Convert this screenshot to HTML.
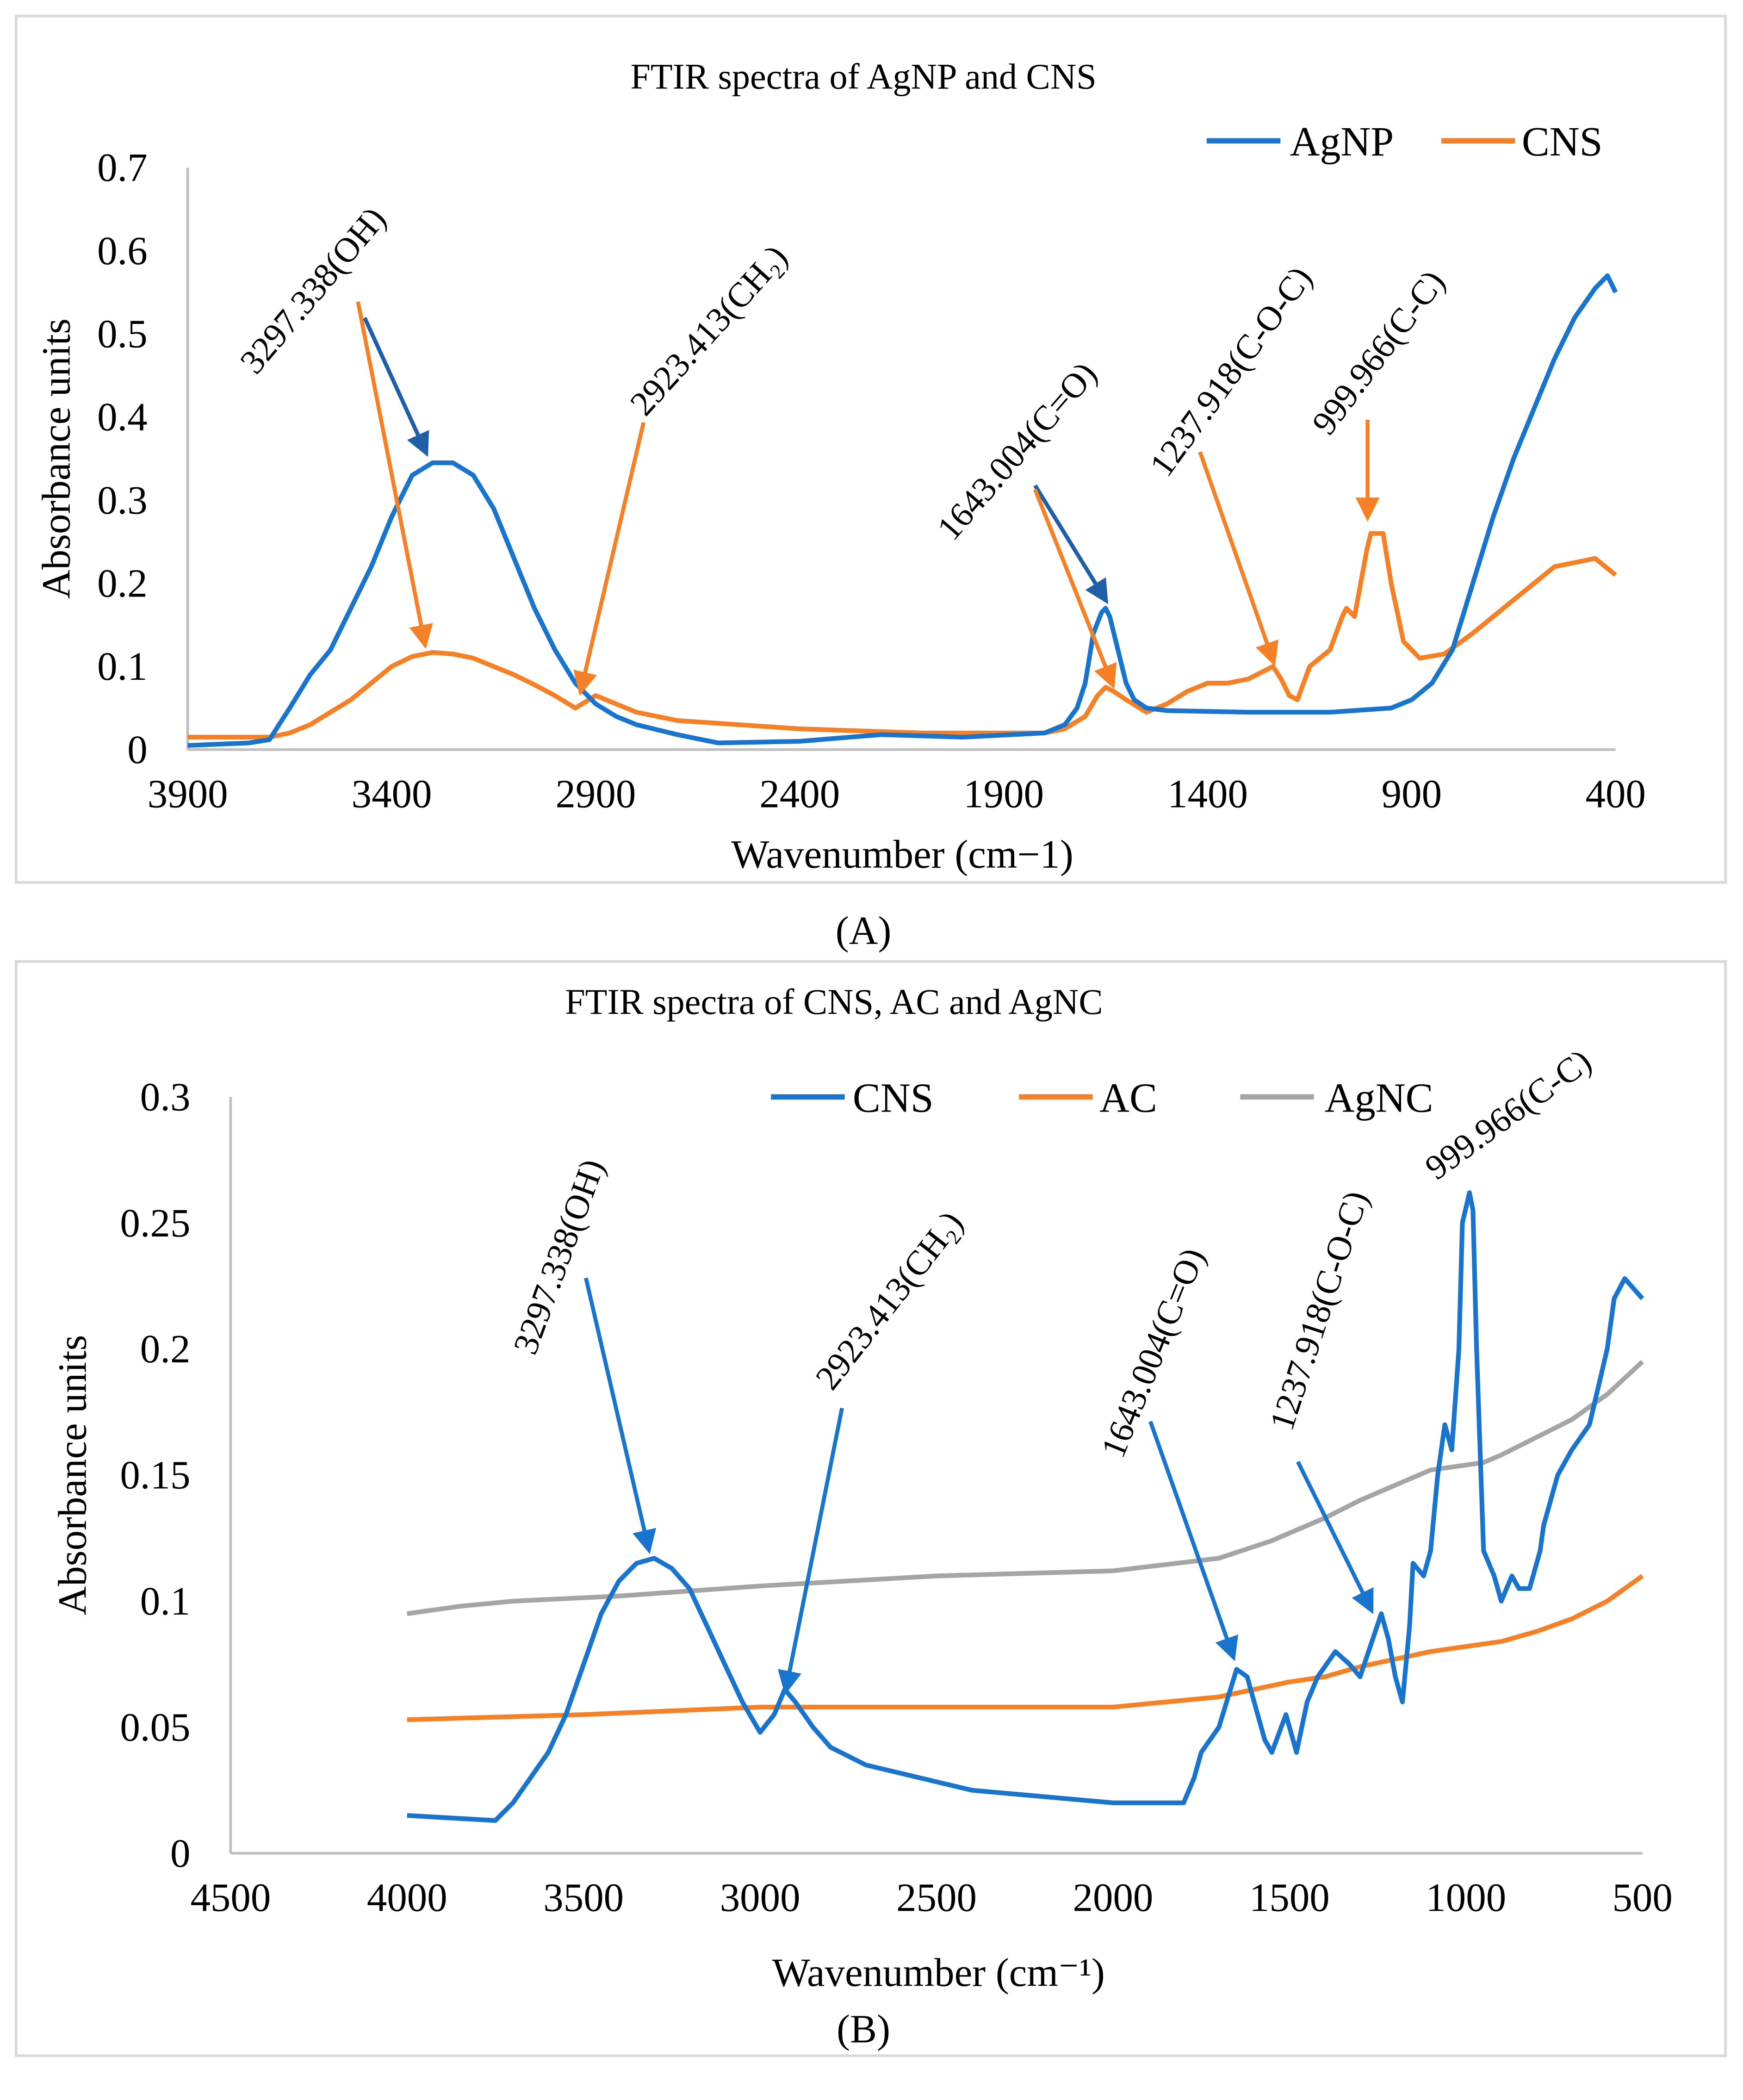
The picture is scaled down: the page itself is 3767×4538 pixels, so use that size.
<!DOCTYPE html>
<html><head><meta charset="utf-8"><style>
html,body{margin:0;padding:0;background:#fff}
svg{display:block;font-family:"Liberation Serif","Times New Roman","DejaVu Serif",serif}
svg text{font-family:"Liberation Serif","Times New Roman","DejaVu Serif",serif !important;fill:#000}
</style></head><body>
<svg width="3767" height="4538" viewBox="0 0 1300 1566" preserveAspectRatio="none" xmlns="http://www.w3.org/2000/svg">
<defs>
<marker id="ab" markerWidth="6" markerHeight="6" refX="5" refY="3" orient="auto" markerUnits="strokeWidth"><path d="M0,0 L6,3 L0,6 z" fill="#1f5fa8"/></marker>
<marker id="ao" markerWidth="6" markerHeight="6" refX="5" refY="3" orient="auto" markerUnits="strokeWidth"><path d="M0,0 L6,3 L0,6 z" fill="#f58025"/></marker>
<marker id="ab2" markerWidth="6" markerHeight="6" refX="5" refY="3" orient="auto" markerUnits="strokeWidth"><path d="M0,0 L6,3 L0,6 z" fill="#1874cd"/></marker>
</defs>
<rect x="12" y="12" width="1275" height="646" fill="#fff" stroke="#d9d9d9" stroke-width="2"/>
<rect x="12" y="717" width="1275" height="816" fill="#fff" stroke="#d9d9d9" stroke-width="2"/>
<text x="644" y="66" font-size="27" text-anchor="middle">FTIR spectra of AgNP and CNS</text>
<text x="622" y="756" font-size="27" text-anchor="middle">FTIR spectra of CNS, AC and AgNC</text>
<text x="644" y="704" font-size="30" text-anchor="middle">(A)</text>
<text x="644" y="1523" font-size="30" text-anchor="middle">(B)</text>
<g>
<line x1="900" y1="105" x2="955" y2="105" stroke="#1874cd" stroke-width="4"/><text x="962" y="116" font-size="31">AgNP</text>
<line x1="1075" y1="105" x2="1130" y2="105" stroke="#f58025" stroke-width="4"/><text x="1135" y="116" font-size="31">CNS</text>
</g>
<g>
<line x1="575" y1="818" x2="630" y2="818" stroke="#1874cd" stroke-width="4"/><text x="636" y="829" font-size="31">CNS</text>
<line x1="760" y1="818" x2="815" y2="818" stroke="#f58025" stroke-width="4"/><text x="820" y="829" font-size="31">AC</text>
<line x1="925" y1="818" x2="980" y2="818" stroke="#a5a5a5" stroke-width="4"/><text x="988" y="829" font-size="31">AgNC</text>
</g>
<g id="chartA"></g>
<g id="chartB"></g>
<text x="673" y="647" font-size="30" text-anchor="middle">Wavenumber (cm−1)</text>
<text transform="translate(52,342) rotate(-90)" font-size="30" text-anchor="middle">Absorbance units</text>
<text x="700" y="1481" font-size="30" text-anchor="middle">Wavenumber (cm⁻¹)</text>
<text transform="translate(64,1100) rotate(-90)" font-size="30" text-anchor="middle">Absorbance units</text>
<g>
<text transform="translate(240,222) rotate(-50)" text-anchor="middle" font-size="26">3297.338(OH)</text>
<text transform="translate(535,252) rotate(-48)" text-anchor="middle" font-size="26">2923.413(CH₂)</text>
<text transform="translate(765,342) rotate(-49)" text-anchor="middle" font-size="26">1643.004(C=O)</text>
<text transform="translate(925,282) rotate(-54)" text-anchor="middle" font-size="26">1237.918(C-O-C)</text>
<text transform="translate(1035,268) rotate(-53)" text-anchor="middle" font-size="26">999.966(C-C)</text>
<line x1="272" y1="237" x2="318" y2="338" stroke="#1f5fa8" stroke-width="3" marker-end="url(#ab)"/>
<line x1="267" y1="225" x2="317" y2="481" stroke="#f58025" stroke-width="3" marker-end="url(#ao)"/>
<line x1="480" y1="315" x2="433" y2="516" stroke="#f58025" stroke-width="3" marker-end="url(#ao)"/>
<line x1="772" y1="362" x2="825" y2="448" stroke="#1f5fa8" stroke-width="3" marker-end="url(#ab)"/>
<line x1="772" y1="365" x2="830" y2="511" stroke="#f58025" stroke-width="3" marker-end="url(#ao)"/>
<line x1="895" y1="337" x2="950" y2="494" stroke="#f58025" stroke-width="3" marker-end="url(#ao)"/>
<line x1="1020" y1="313" x2="1020" y2="386" stroke="#f58025" stroke-width="3" marker-end="url(#ao)"/>
</g>
<g>
<text transform="translate(425,940) rotate(-70)" text-anchor="middle" font-size="26">3297.338(OH)</text>
<text transform="translate(670,975) rotate(-52)" text-anchor="middle" font-size="26">2923.413(CH₂)</text>
<text transform="translate(868,1012) rotate(-68)" text-anchor="middle" font-size="26">1643.004(C=O)</text>
<text transform="translate(992,980) rotate(-72)" text-anchor="middle" font-size="26">1237.918(C-O-C)</text>
<text transform="translate(1130,838) rotate(-36)" text-anchor="middle" font-size="26">999.966(C-C)</text>
<line x1="437" y1="953" x2="484" y2="1156" stroke="#1874cd" stroke-width="3" marker-end="url(#ab2)"/>
<line x1="628" y1="1050" x2="586" y2="1261" stroke="#1874cd" stroke-width="3" marker-end="url(#ab2)"/>
<line x1="858" y1="1060" x2="920" y2="1236" stroke="#1874cd" stroke-width="3" marker-end="url(#ab2)"/>
<line x1="968" y1="1090" x2="1023" y2="1201" stroke="#1874cd" stroke-width="3" marker-end="url(#ab2)"/>
</g>
</svg>
<script>
const aAgNPx=[3900,3750,3700,3650,3600,3550,3500,3450,3400,3350,3300,3250,3200,3150,3100,3050,3000,2950,2900,2850,2800,2700,2600,2400,2200,2000,1800,1750,1720,1700,1680,1660,1650,1640,1620,1600,1580,1550,1500,1300,1100,950,900,850,800,750,700,650,600,550,500,450,420,400];
const aAgNPy=[0.005,0.008,0.012,0.05,0.09,0.12,0.17,0.22,0.28,0.33,0.345,0.345,0.33,0.29,0.23,0.17,0.12,0.08,0.055,0.04,0.03,0.018,0.008,0.01,0.018,0.015,0.02,0.03,0.05,0.08,0.14,0.165,0.17,0.16,0.12,0.08,0.06,0.05,0.047,0.045,0.045,0.05,0.06,0.08,0.12,0.2,0.28,0.35,0.41,0.47,0.52,0.555,0.57,0.55];
const aCNSx=[3900,3700,3650,3600,3550,3500,3450,3400,3350,3300,3250,3200,3150,3100,3050,3000,2950,2900,2850,2800,2700,2400,2100,1800,1750,1700,1670,1650,1630,1600,1550,1500,1450,1400,1350,1300,1240,1220,1200,1180,1150,1100,1070,1060,1040,1010,1000,970,960,950,920,880,820,750,650,550,450,400];
const aCNSy=[0.015,0.015,0.02,0.03,0.045,0.06,0.08,0.1,0.112,0.117,0.115,0.11,0.1,0.09,0.078,0.065,0.05,0.065,0.055,0.045,0.035,0.025,0.02,0.02,0.025,0.04,0.065,0.075,0.07,0.06,0.045,0.055,0.07,0.08,0.08,0.085,0.1,0.085,0.065,0.06,0.1,0.12,0.16,0.17,0.16,0.24,0.26,0.26,0.23,0.2,0.13,0.11,0.115,0.14,0.18,0.22,0.23,0.21];
const bCNSx=[4000,3750,3700,3600,3550,3500,3450,3400,3350,3300,3250,3200,3150,3100,3050,3000,2960,2930,2900,2850,2800,2700,2400,2000,1800,1770,1750,1700,1650,1620,1600,1570,1550,1510,1490,1480,1450,1420,1370,1330,1300,1240,1220,1200,1180,1160,1150,1120,1100,1080,1060,1040,1020,1010,990,980,970,950,920,900,870,850,820,790,780,740,700,650,600,580,550,500];
const bCNSy=[0.015,0.013,0.02,0.04,0.055,0.075,0.095,0.108,0.115,0.117,0.113,0.105,0.09,0.075,0.06,0.048,0.055,0.065,0.06,0.05,0.042,0.035,0.025,0.02,0.02,0.03,0.04,0.05,0.073,0.07,0.06,0.045,0.04,0.055,0.045,0.04,0.06,0.07,0.08,0.075,0.07,0.095,0.085,0.07,0.06,0.09,0.115,0.11,0.12,0.15,0.17,0.16,0.2,0.25,0.262,0.255,0.2,0.12,0.11,0.1,0.11,0.105,0.105,0.12,0.13,0.15,0.16,0.17,0.2,0.22,0.228,0.22];
const bACx=[4000,3500,3000,2500,2000,1700,1600,1500,1400,1300,1200,1100,1000,900,800,700,600,550,500];
const bACy=[0.053,0.055,0.058,0.058,0.058,0.062,0.065,0.068,0.07,0.074,0.077,0.08,0.082,0.084,0.088,0.093,0.1,0.105,0.11];
const bAgNCx=[4000,3850,3700,3400,3000,2500,2000,1700,1550,1500,1400,1300,1200,1100,1000,950,900,800,700,600,500];
const bAgNCy=[0.095,0.098,0.1,0.102,0.106,0.11,0.112,0.117,0.124,0.127,0.133,0.14,0.146,0.152,0.154,0.155,0.158,0.165,0.172,0.182,0.195];
const aXTicks=[3900,3400,2900,2400,1900,1400,900,400];
const aYTicks=[0,0.1,0.2,0.3,0.4,0.5,0.6,0.7];
const bXTicks=[4500,4000,3500,3000,2500,2000,1500,1000,500];
const bYTicks=[0,0.05,0.1,0.15,0.2,0.25,0.3];
const NS='http://www.w3.org/2000/svg';
function mk(tag,attrs,parent){const e=document.createElementNS(NS,tag);for(const k in attrs)e.setAttribute(k,attrs[k]);parent.appendChild(e);return e;}
function build(g,cfg){
 const sx=v=>cfg.x0+(cfg.xmax-v)/(cfg.xmax-cfg.xmin)*(cfg.x1-cfg.x0);
 const sy=v=>cfg.y0-(v/cfg.ymax)*(cfg.y0-cfg.y1);
 const ax=mk('line',{x1:cfg.x0,y1:cfg.y0,x2:cfg.x1,y2:cfg.y0,stroke:'#bfbfbf','stroke-width':2},g);
 
 
 const ay=mk('line',{x1:cfg.x0,y1:cfg.y0,x2:cfg.x0,y2:cfg.y1,stroke:'#bfbfbf','stroke-width':2},g);
 
 
 cfg.xt.forEach(t=>{const e=mk('text',{x:sx(t),y:cfg.y0+43,'font-size':30,'text-anchor':'middle'},g);e.textContent=t;
  
  });
 cfg.yt.forEach(t=>{const e=mk('text',{x:cfg.x0-30,y:sy(t)+10,'font-size':30,'text-anchor':'end'},g);e.textContent=t;
  
  });
 cfg.series.forEach(s=>{const d=s.x.map((v,i)=>(i?'L':'M')+sx(v).toFixed(1)+','+sy(s.y[i]).toFixed(1)).join(' ');
  const p=mk('path',{d:d,fill:'none',stroke:s.c,'stroke-width':3.5,'stroke-linejoin':'round'},g);
  
  });
}
build(document.getElementById('chartA'),{x0:140,x1:1205,y0:559,y1:125,xmin:400,xmax:3900,ymax:0.7,xt:aXTicks,yt:aYTicks,
 series:[{x:aCNSx,y:aCNSy,c:'#f58025',n:'cns-line-a'},{x:aAgNPx,y:aAgNPy,c:'#1874cd',n:'agnp-line'}]});
build(document.getElementById('chartB'),{x0:172,x1:1225,y0:1382,y1:818,xmin:500,xmax:4500,ymax:0.3,xt:bXTicks,yt:bYTicks,
 series:[{x:bAgNCx,y:bAgNCy,c:'#a5a5a5',n:'agnc-line'},{x:bACx,y:bACy,c:'#f58025',n:'ac-line'},{x:bCNSx,y:bCNSy,c:'#1874cd',n:'cns-line-b'}]});
</script>
</body></html>
